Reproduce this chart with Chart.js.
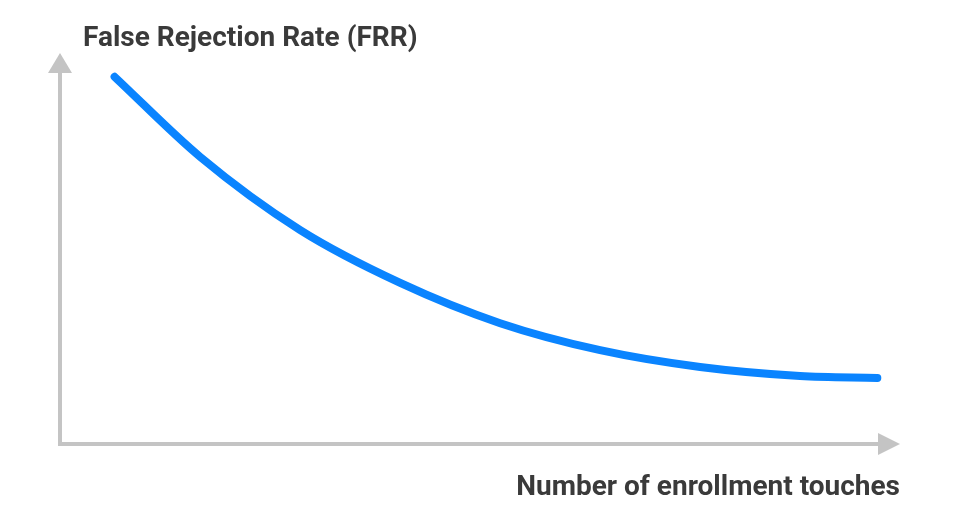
<!DOCTYPE html>
<html>
<head>
<meta charset="utf-8">
<script src="https://cdn.jsdelivr.net/npm/chart.js@4/dist/chart.umd.min.js"></script>
<style>
  html, body { margin: 0; padding: 0; background: #fff; }
  #wrap { width: 960px; height: 520px; position: relative; }
</style>
</head>
<body>
<div id="wrap"><canvas id="frr-chart"></canvas></div>
<script>
// enrollment touches (arbitrary units 0-100) and FRR (arbitrary units 0-100)
const touches = [6.5, 16.7, 28.6, 40.5, 52.4, 64.3, 76.2, 88.1, 97.3];
const frrValues = [93.9, 73.4, 54.7, 41.2, 30.9, 24.0, 19.7, 17.4, 16.9];

const yTitle = 'False Rejection Rate (FRR)';
const xTitle = 'Number of enrollment touches';

const axisColor = '#c4c4c4';
const textColor = '#3a3a3a';

// axes with arrow heads + the two labels
const axesArrows = {
    id: 'axesArrows',
    afterDraw(chart) {
        const ctx = chart.ctx;
        const x0 = chart.scales.x.getPixelForValue(0);
        const x1 = chart.scales.x.getPixelForValue(100);
        const y0 = chart.scales.y.getPixelForValue(0);
        const y1 = chart.scales.y.getPixelForValue(100);
        ctx.save();
        ctx.strokeStyle = axisColor;
        ctx.fillStyle = axisColor;
        ctx.lineWidth = 4;
        ctx.beginPath();
        ctx.moveTo(x0, y0);
        ctx.lineTo(x0, y1 + 20);
        ctx.moveTo(x0 - 2, y0);
        ctx.lineTo(x1 - 22, y0);
        ctx.stroke();
        // y arrow
        ctx.beginPath();
        ctx.moveTo(x0 - 12, y1 + 20);
        ctx.lineTo(x0 + 12, y1 + 20);
        ctx.lineTo(x0, y1);
        ctx.closePath();
        ctx.fill();
        // x arrow
        ctx.beginPath();
        ctx.moveTo(x1 - 22, y0 - 11);
        ctx.lineTo(x1 - 22, y0 + 11);
        ctx.lineTo(x1, y0);
        ctx.closePath();
        ctx.fill();

        ctx.fillStyle = textColor;
        ctx.font = 'bold 28px Roboto';
        ctx.textBaseline = 'alphabetic';
        ctx.textAlign = 'left';
        ctx.fillText(yTitle, x0 + 23, y1 - 7);
        ctx.textAlign = 'right';
        ctx.fillText(xTitle, x1, y0 + 51);
        ctx.restore();
    }
};

document.addEventListener('DOMContentLoaded', () => {
    let ctx = document.getElementById('frr-chart');
    new Chart(ctx, {
        type: 'line',
        data: {
            datasets: [{
                label: 'FRR',
                data: touches.map((t, i) => ({ x: t, y: frrValues[i] })),
                borderColor: '#0a84ff',
                borderWidth: 8,
                borderCapStyle: 'round',
                borderJoinStyle: 'round',
                pointRadius: 0,
                fill: false,
                cubicInterpolationMode: 'monotone',
            }]
        },
        options: {
            responsive: true,
            maintainAspectRatio: false,
            animation: false,
            layout: {
                padding: { left: 60, right: 60, top: 53, bottom: 76 }
            },
            plugins: {
                legend: { display: false },
                title: { display: false },
                tooltip: { enabled: false }
            },
            scales: {
                x: { type: 'linear', min: 0, max: 100, display: false },
                y: { type: 'linear', min: 0, max: 100, display: false }
            }
        },
        plugins: [axesArrows]
    });
});
</script>
</body>
</html>
